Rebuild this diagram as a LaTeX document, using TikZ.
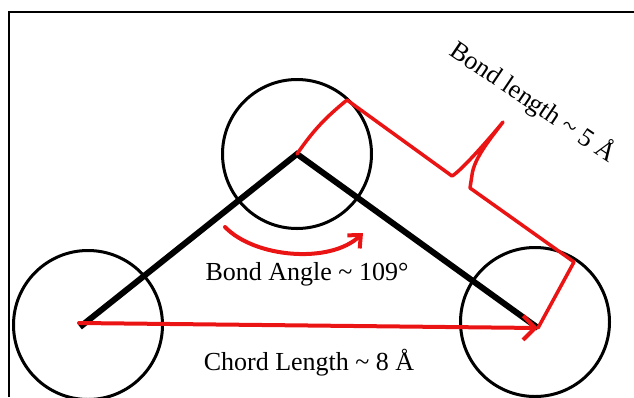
\documentclass[tikz,border=0pt]{standalone}
\usepackage{fontspec}
\setmainfont{Liberation Serif}
\usetikzlibrary{arrows.meta}
\definecolor{brightred}{RGB}{235,20,20}
\tikzset{
  atom/.style={circle, draw=black, line width=3pt, minimum size=149pt, inner sep=0pt},
  bond/.style={black, line width=6pt},
  redpath/.style={brightred, line width=3.5pt, line join=round, line cap=round},
  lbl/.style={font=\fontsize{26}{30}\selectfont, inner sep=0pt},
}

\begin{document}
\begin{tikzpicture}[x=1pt,y=-1pt]
  \useasboundingbox (0,0) rectangle (634,397);
  \clip (0,0) rectangle (634,397);
  % frame
  \draw[line width=1.5pt] (9,397) -- (9,12) -- (634,12);
  % atoms
  \node[atom] (atomL) at (88,325) {};
  \node[atom] (atomT) at (297,154) {};
  \node[atom] (atomR) at (535,322) {};
  \coordinate (endL) at (80,327);
  \coordinate (endR) at (538,328);
  \coordinate (chordL) at (79,323);
  % bonds
  \draw[bond] (endL) -- (atomT.center) -- (endR);
  % chord
  \draw[redpath, line width=4pt, -{Straight Barb[length=12pt,width=24pt]}] (chordL) -- (endR);
  % bond angle
  \coordinate (angA) at (225,227);
  \coordinate (angB) at (363,233);
  \draw[redpath, line width=4pt, -{Straight Barb[length=10pt,width=18pt]}] (angA) .. controls (255,258) and (330,264) .. (angB);
  % bond length bracket
  \coordinate (brTop) at (347,100);
  \coordinate (brTip) at (503,122);
  \coordinate (brCorner) at (574,262);
  \draw[redpath] (atomT.center) to[bend left=8] (brTop) -- (452,176)
    .. controls (461,171) and (490,138) .. (brTip)
    .. controls (491,138) and (474,158) .. (472,175) -- (470,188)
    -- (brCorner) -- (endR);
  % labels
  \node[lbl, anchor=base] (angleLbl) at (307,280) {Bond Angle \textasciitilde{} 109°};
  \node[lbl, anchor=base] (chordLbl) at (309,370) {Chord Length \textasciitilde{} 8 Å};
  \node[lbl, rotate=-34] (bondLbl) at (533,102) {Bond length \textasciitilde{} 5 Å};
\end{tikzpicture}
\end{document}
